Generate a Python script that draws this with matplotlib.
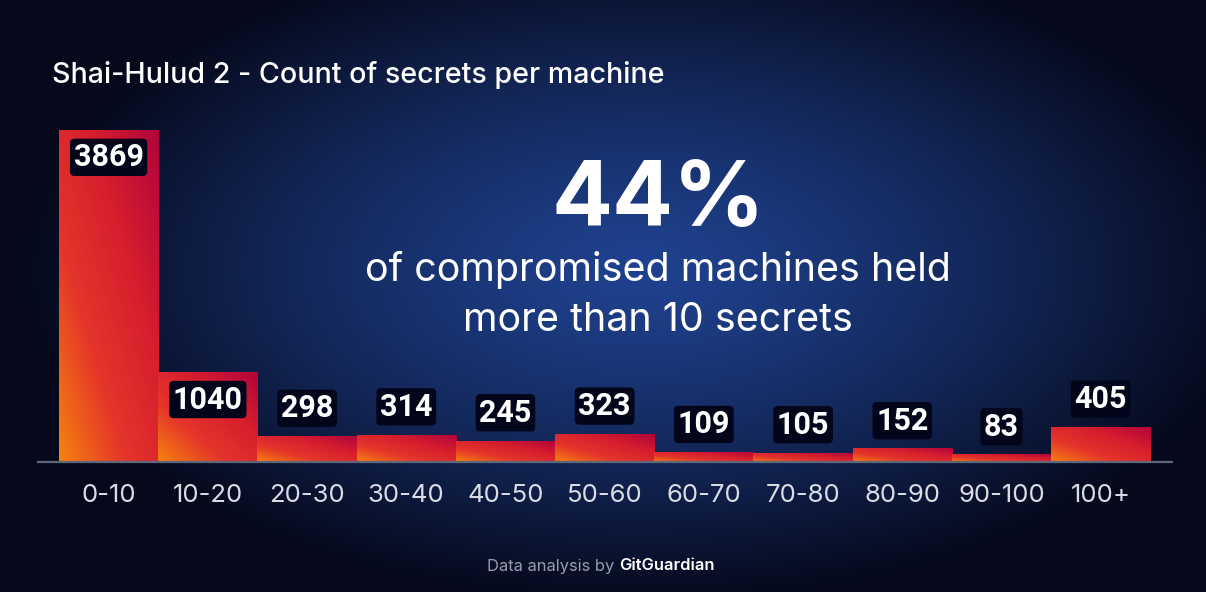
import numpy as np
import matplotlib
matplotlib.use("Agg")
import matplotlib.pyplot as plt
from matplotlib.colors import LinearSegmentedColormap

bins = ["0-10", "10-20", "20-30", "30-40", "40-50", "50-60",
        "60-70", "70-80", "80-90", "90-100", "100+"]
machines = [3869, 1040, 298, 314, 245, 323, 109, 105, 152, 83, 405]

title = "Shai-Hulud 2 - Count of secrets per machine"
big_number = "44%"
subtitle = "of compromised machines held\nmore than 10 secrets"

fig = plt.figure(figsize=(12.06, 5.92), dpi=100)

# background radial glow
bg = fig.add_axes([0, 0, 1, 1], zorder=-10)
W, H = 1206, 592
yy, xx = np.mgrid[0:H, 0:W]
r = np.sqrt(((xx - 640) / 620.0) ** 2 + ((yy - 270) / 330.0) ** 2)
t = np.clip(r, 0, 1) ** 1.3
c_in = np.array([0x1f, 0x41, 0x8e]) / 255
c_out = np.array([0x05, 0x09, 0x1b]) / 255
img = c_in[None, None, :] * (1 - t[..., None]) + c_out[None, None, :] * t[..., None]
bg.imshow(img, aspect="auto", extent=(0, 1, 0, 1), origin="upper")
bg.set_axis_off()

ax = fig.add_axes([38 / W, 130 / H, 1134 / W, 362 / H])
ax.set_facecolor("none")
ax.set_xlim(-0.712, 10.719)
ax.set_ylim(0, 4229)

bar_cmap = LinearSegmentedColormap.from_list(
    "bars", ["#f5820e", "#e4352a", "#d61d2e", "#b0053c"])
gu, gv = np.meshgrid(np.linspace(0, 1, 100), np.linspace(1, 0, 100))
grad = (gu + gv) / 2

for i, v in enumerate(machines):
    ax.imshow(grad, cmap=bar_cmap, aspect="auto", vmin=0, vmax=1,
              extent=(i - 0.5, i + 0.5, 0, v), zorder=2)
    ly = v - 310 if v > 1000 else v + 330
    ax.text(i, ly, str(v), ha="center", va="center", color="white",
            fontsize=22, fontweight="bold", family="Roboto", zorder=4,
            bbox=dict(boxstyle="round,pad=0.12,rounding_size=0.15",
                      fc="#03061a", ec="none"))

for s in ["top", "right", "left"]:
    ax.spines[s].set_visible(False)
ax.spines["bottom"].set_color("#5e6678")
ax.spines["bottom"].set_linewidth(1.6)
ax.spines["bottom"].set_zorder(3)
ax.set_yticks([])
ax.set_xticks(range(len(bins)))
ax.set_xticklabels(bins, color="#d9dce5", fontsize=18.5, family="Inter")
ax.tick_params(axis="x", length=0, pad=16)

fig.text(52 / W, 1 - 75 / H, title, color="white", fontsize=20.6,
         family="Inter", fontweight="medium", ha="left", va="center")
fig.text(658 / W, 1 - 202 / H, big_number, color="white", fontsize=65,
         family="Inter", fontweight="bold", ha="center", va="center")
fig.text(658 / W, 1 - 295 / H, subtitle, color="white", fontsize=28.4,
         family="Inter", ha="center", va="center", linespacing=1.45)

fig.text(619 / W, 1 - 566 / H, "Data analysis by ", color="#969cab",
         fontsize=11.9, family="Inter", ha="right", va="center")
fig.text(619 / W, 1 - 566 / H, "GitGuardian", color="white",
         fontsize=11.9, family="Inter", fontweight="semibold",
         ha="left", va="center")

fig.savefig("out.png", dpi=100)
